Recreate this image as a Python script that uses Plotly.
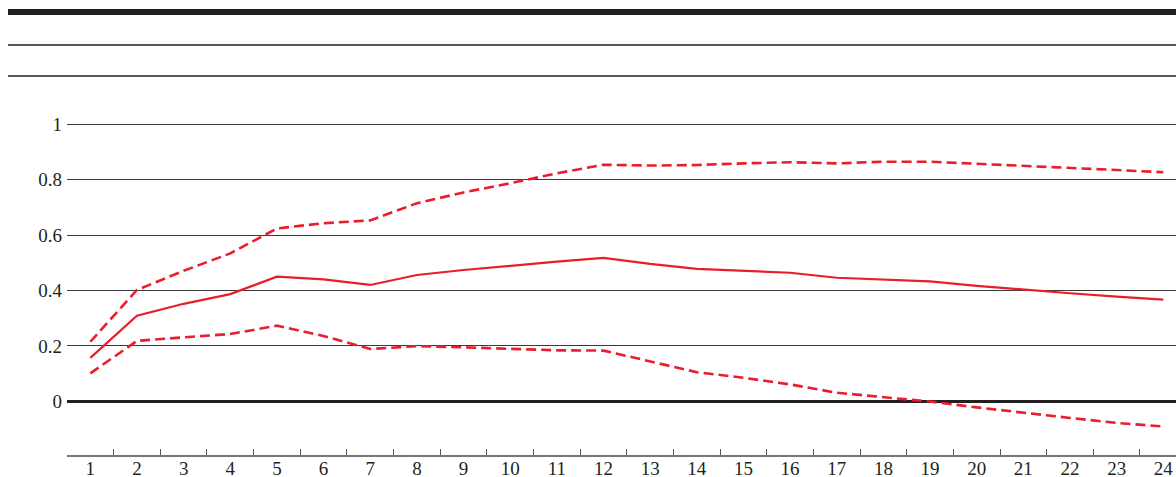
import plotly.graph_objects as go

periods = [str(i) for i in range(1, 25)]
upper = [0.215, 0.402, 0.471, 0.534, 0.624, 0.643, 0.653, 0.715, 0.754, 0.787, 0.823, 0.854,
         0.851, 0.853, 0.859, 0.863, 0.859, 0.865, 0.865, 0.858, 0.851, 0.844, 0.835, 0.827]
median = [0.157, 0.309, 0.352, 0.387, 0.450, 0.440, 0.420, 0.456, 0.474, 0.490, 0.504, 0.518,
          0.496, 0.478, 0.472, 0.464, 0.446, 0.440, 0.433, 0.417, 0.403, 0.390, 0.378, 0.367]
lower = [0.101, 0.218, 0.231, 0.243, 0.273, 0.236, 0.189, 0.199, 0.195, 0.190, 0.184, 0.183,
         0.143, 0.105, 0.085, 0.061, 0.031, 0.016, -0.001, -0.022, -0.042, -0.060, -0.078, -0.091]
ytick_vals = [0, 0.2, 0.4, 0.6, 0.8, 1]
ytick_text = ["0", "0.2", "0.4", "0.6", "0.8", "1"]

RED = "#ea1d2c"
FONT = "Liberation Serif"
W, H = 1176, 477
ML, MT, MB = 67, 90, 22
PW = W - ML
PH = H - MT - MB

fig = go.Figure()
fig.add_trace(go.Scatter(x=periods, y=upper, mode="lines",
                         line=dict(color=RED, width=2.6, dash="10px,5px"), hoverinfo="skip"))
fig.add_trace(go.Scatter(x=periods, y=lower, mode="lines",
                         line=dict(color=RED, width=2.6, dash="10px,5px"), hoverinfo="skip"))
fig.add_trace(go.Scatter(x=periods, y=median, mode="lines",
                         line=dict(color=RED, width=2.2), hoverinfo="skip"))

px_per_cat = 46.65
x_end = -0.5 + PW / px_per_cat
px_per_unit = 277.0
y_top = 0 + (401.3 - MT) / px_per_unit
y_bot = -(MT + PH - 401.3) / px_per_unit


def py(pix):
    return 1 + (MT - pix) / PH


x_left_paper = (8 - ML) / PW
shapes = [
    dict(type="line", xref="paper", yref="paper", x0=x_left_paper, x1=1, y0=py(12), y1=py(12),
         line=dict(color="#231f20", width=6)),
    dict(type="line", xref="paper", yref="paper", x0=x_left_paper, x1=1, y0=py(45), y1=py(45),
         line=dict(color="#231f20", width=1.5)),
    dict(type="line", xref="paper", yref="paper", x0=x_left_paper, x1=1, y0=py(76), y1=py(76),
         line=dict(color="#231f20", width=1.5)),
]

fig.update_layout(
    width=W, height=H,
    margin=dict(l=ML, r=0, t=MT, b=MB, autoexpand=False),
    paper_bgcolor="white", plot_bgcolor="white",
    showlegend=False,
    font=dict(family=FONT, size=19, color="#231f20"),
    shapes=shapes,
    xaxis=dict(type="category", range=[-0.5, x_end], tickson="boundaries",
               ticks="inside", ticklen=6, tickcolor="#555", tickwidth=1,
               showline=True, linecolor="#777", linewidth=1.5,
               showgrid=False, zeroline=False, automargin=False,
               ticklabelstandoff=-5,
               tickfont=dict(family=FONT, size=19, color="#231f20")),
    yaxis=dict(range=[y_bot, y_top], tickmode="array", tickvals=ytick_vals, ticktext=ytick_text,
               ticks="", showline=False, showgrid=True, gridcolor="#3a3a3a", gridwidth=1.2,
               zeroline=True, zerolinecolor="#231f20", zerolinewidth=2.5,
               automargin=False, ticklabelstandoff=4,
               tickfont=dict(family=FONT, size=19, color="#231f20")),
)

fig.write_html(
    "out.html",
    config={"displayModeBar": False},
    post_script="document.body.style.margin='0';document.body.style.overflow='hidden';",
)
